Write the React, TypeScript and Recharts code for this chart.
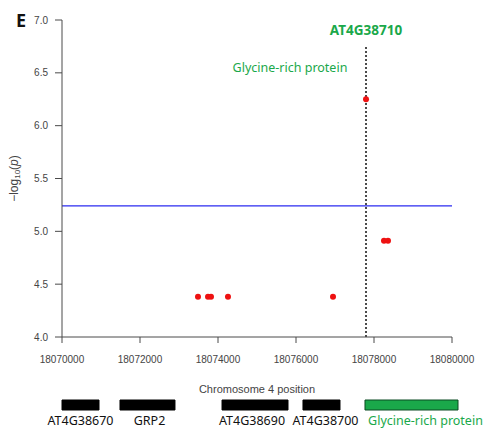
import { ComposedChart, Scatter, XAxis, YAxis, ReferenceLine, ReferenceArea } from 'recharts'

// SNP positions on chr4 and their -log10(p)
const snpPos = [18073487, 18073744, 18073820, 18074256, 18076949, 18077795, 18078256, 18078359]
const snpLogP = [4.38, 4.38, 4.38, 4.38, 4.38, 6.25, 4.91, 4.91]

const xTicks = [18070000, 18072000, 18074000, 18076000, 18078000, 18080000]
const yTicks = [4.0, 4.5, 5.0, 5.5, 6.0, 6.5, 7.0]
const threshold = 5.24
const leadSnp = 18077795
const leadTop = 6.76

// gene models under the plot
const geneNames = ['AT4G38670', 'GRP2', 'AT4G38690', 'AT4G38700', 'Glycine-rich protein']
const geneStart = [18070000, 18071487, 18074103, 18076179, 18077769]
const geneEnd = [18070949, 18072897, 18075795, 18077128, 18080154]
const geneHighlight = [false, false, false, false, true]
const labelShift = [0, 2, -3, 4, 14]

const GREEN = '#1aa84a'
const AXIS = '#4a4a4a'
const sans = '"Noto Sans", "Open Sans", sans-serif'
const arial = '"Liberation Sans", Arial, sans-serif'

const points = snpPos.map((x, i) => ({ x, y: snpLogP[i] }))
const genes = geneNames.map((name, i) => ({ name, x: (geneStart[i] + geneEnd[i]) / 2, y: 25 }))

const YLabel = (props: any) => {
  const vb = props.viewBox || {}
  const cx = 15
  const cy = (vb.y ?? 20) + (vb.height ?? 317) / 2
  return (
    <text x={cx} y={cy} transform={`rotate(-90 ${cx} ${cy})`} textAnchor="middle" dominantBaseline="middle"
      fontFamily={arial} fontSize={12} fill="#444">
      <tspan>−log</tspan>
      <tspan fontSize={8} dy={3}>10</tspan>
      <tspan dy={-3}>(</tspan>
      <tspan fontStyle="italic">p</tspan>
      <tspan>)</tspan>
    </text>
  )
}

export default function App() {
  return (
    <div style={{ position: 'absolute', left: 0, top: 0, width: 492, height: 430, background: '#fff' }}>
      <ComposedChart width={492} height={395} data={points} margin={{ top: 20, right: 40, bottom: 0, left: 0 }}>
        <XAxis type="number" dataKey="x" domain={[18070000, 18080000]} ticks={xTicks} height={58}
          tickSize={6} tickMargin={13} interval={0}
          stroke={AXIS} tick={{ fontSize: 10, fill: '#444', fontFamily: arial }}
          label={{ value: 'Chromosome 4 position', position: 'insideBottom', offset: 2, fontSize: 11, fill: '#444', fontFamily: arial }} />
        <YAxis type="number" dataKey="y" domain={[4, 7]} ticks={yTicks} width={62}
          tickSize={7} tickMargin={7} interval={0}
          tickFormatter={(v: number) => v.toFixed(1)}
          stroke={AXIS} tick={{ fontSize: 10, fill: '#444', fontFamily: arial }}
          label={YLabel} />
        <ReferenceLine y={threshold} stroke="#2b2bf0" strokeWidth={1.2} />
        <ReferenceLine segment={[{ x: leadSnp, y: 4 }, { x: leadSnp, y: leadTop }]} stroke="#111" strokeWidth={1.5} strokeDasharray="2 2" />
        <Scatter data={points} fill="#ee1111" isAnimationActive={false}
          shape={(p: any) => <circle cx={p.cx} cy={p.cy} r={3} fill="#ee1111" />} />
      </ComposedChart>

      <div style={{ position: 'absolute', left: 0, top: 395 }}>
        <ComposedChart width={492} height={35} data={genes} margin={{ top: 0, right: 40, bottom: 0, left: 62 }}>
          <XAxis type="number" dataKey="x" domain={[18070000, 18080000]} hide allowDataOverflow />
          <YAxis type="number" dataKey="y" domain={[0, 35]} hide />
          <Scatter data={genes} isAnimationActive={false} shape={() => <g />} />
          {geneNames.map((name, i) => (
            <ReferenceArea key={name} x1={geneStart[i]} x2={geneEnd[i]} y1={20} y2={30} ifOverflow="visible"
              fill={geneHighlight[i] ? GREEN : '#000'} fillOpacity={1}
              stroke={geneHighlight[i] ? '#0b4a22' : '#000'} strokeWidth={1}
              label={{ value: name, position: 'bottom', offset: 6, dx: labelShift[i], fontSize: 12.5, fill: geneHighlight[i] ? GREEN : '#111', fontFamily: sans }} />
          ))}
        </ComposedChart>
      </div>

      <svg width={492} height={430} style={{ position: 'absolute', left: 0, top: 0, pointerEvents: 'none' }}>
        <text x={16} y={27} fontFamily={sans} fontWeight="bold" fontSize={18} fill="#111">E</text>
        <text x={366} y={35} textAnchor="middle" fontFamily={sans} fontWeight="bold" fontSize={13.5} fill={GREEN}>AT4G38710</text>
        <text x={290} y={72} textAnchor="middle" fontFamily={sans} fontSize={12.5} fill={GREEN}>Glycine-rich protein</text>
      </svg>
    </div>
  )
}
